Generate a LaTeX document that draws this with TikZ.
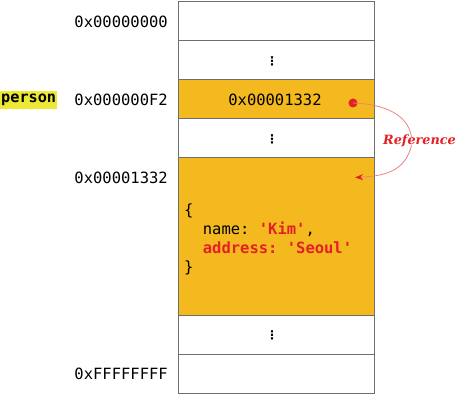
\documentclass[tikz,border=0pt]{standalone}
\usepackage{fontspec}
\setmonofont{DejaVu Sans Mono}
\newfontfamily\dotfont{DejaVu Sans}
\newfontfamily\reffont{DejaVu Serif}
\usetikzlibrary{arrows.meta}
\definecolor{cellfill}{RGB}{243,185,30}
\definecolor{cellline}{RGB}{110,110,110}
\definecolor{hl}{RGB}{236,232,52}
\definecolor{refred}{RGB}{228,32,38}
\definecolor{refline}{RGB}{240,130,130}
\tikzset{
  cell/.style={draw=cellline, line width=1pt, minimum width=196pt, inner sep=0pt, fill=white},
  ycell/.style={cell, fill=cellfill},
  addr/.style={anchor=east, inner sep=0pt, font=\fontsize{15.5}{18}\selectfont\ttfamily},
  vdot/.style={inner sep=0pt, font=\fontsize{12}{13}\selectfont\dotfont\bfseries},
  codebox/.style={anchor=west, inner sep=0pt, align=left, font=\fontsize{15.5}{19.2}\selectfont\ttfamily},
  reflabel/.style={inner sep=0pt, text=refred, font=\fontsize{12.8}{15}\selectfont\reffont\bfseries\itshape},
  refpath/.style={draw=refline, line width=0.8pt},
}
\begin{document}
\begin{tikzpicture}[x=1pt,y=-1pt]
\useasboundingbox (0,0) rectangle (464,404);
% memory cells
\node[cell, minimum height=39pt] (r1) at (276,21.5) {};
\node[cell, minimum height=39pt] (r2) at (276,60.5) {};
\node[ycell, minimum height=39pt] (r3) at (276,99.5) {};
\node[cell, minimum height=39pt] (r4) at (276,138.5) {};
\node[ycell, minimum height=157pt] (r5) at (276,236.5) {};
\node[cell, minimum height=39pt] (r6) at (276,334.5) {};
\node[cell, minimum height=39pt] (r7) at (276,373.5) {};
% dots
\node[vdot] (d2) at (272,61) {⋮};
\node[vdot] (d4) at (272,139) {⋮};
\node[vdot] (d6) at (272,335) {⋮};
% addresses
\node[addr] (a1) at (168,21.5) {0x00000000};
\node[addr] (a3) at (168,100) {0x000000F2};
\node[addr] (a5) at (168,178) {0x00001332};
\node[addr] (a7) at (168,373.5) {0xFFFFFFFF};
% person label
\node[fill=hl, inner xsep=1pt, inner ysep=0pt, minimum height=18pt, anchor=west, font=\fontsize{15.2}{18}\selectfont\ttfamily\bfseries] (person) at (0,100) {person};
% value in person cell
\node[inner sep=0pt, font=\fontsize{15.5}{18}\selectfont\ttfamily] (val) at (275,100) {0x00001332};
% object
\node[codebox] (obj) at (184,239.5) {\{\\
\phantom{xx}name: \textcolor{refred}{\bfseries 'Kim'},\\
\phantom{xx}\textcolor{refred}{\bfseries address: 'Seoul'}\\
\}};
% reference
\node[circle, fill=refred, inner sep=0pt, minimum size=9pt] (dot) at (353,103) {};
\node[reflabel] (ref) at (419.5,141) {Reference};
\coordinate (tip) at (355,177.5);
\draw[refpath] (dot.center) .. controls (385,104) and (408,115) .. ([xshift=-8pt,yshift=-2pt]ref.north);
\draw[refpath, -{Stealth[length=8pt,width=6pt,color=refred]}] ([xshift=-8pt,yshift=2pt]ref.south) .. controls (406,168) and (390,176) .. (tip);
\end{tikzpicture}
\end{document}
